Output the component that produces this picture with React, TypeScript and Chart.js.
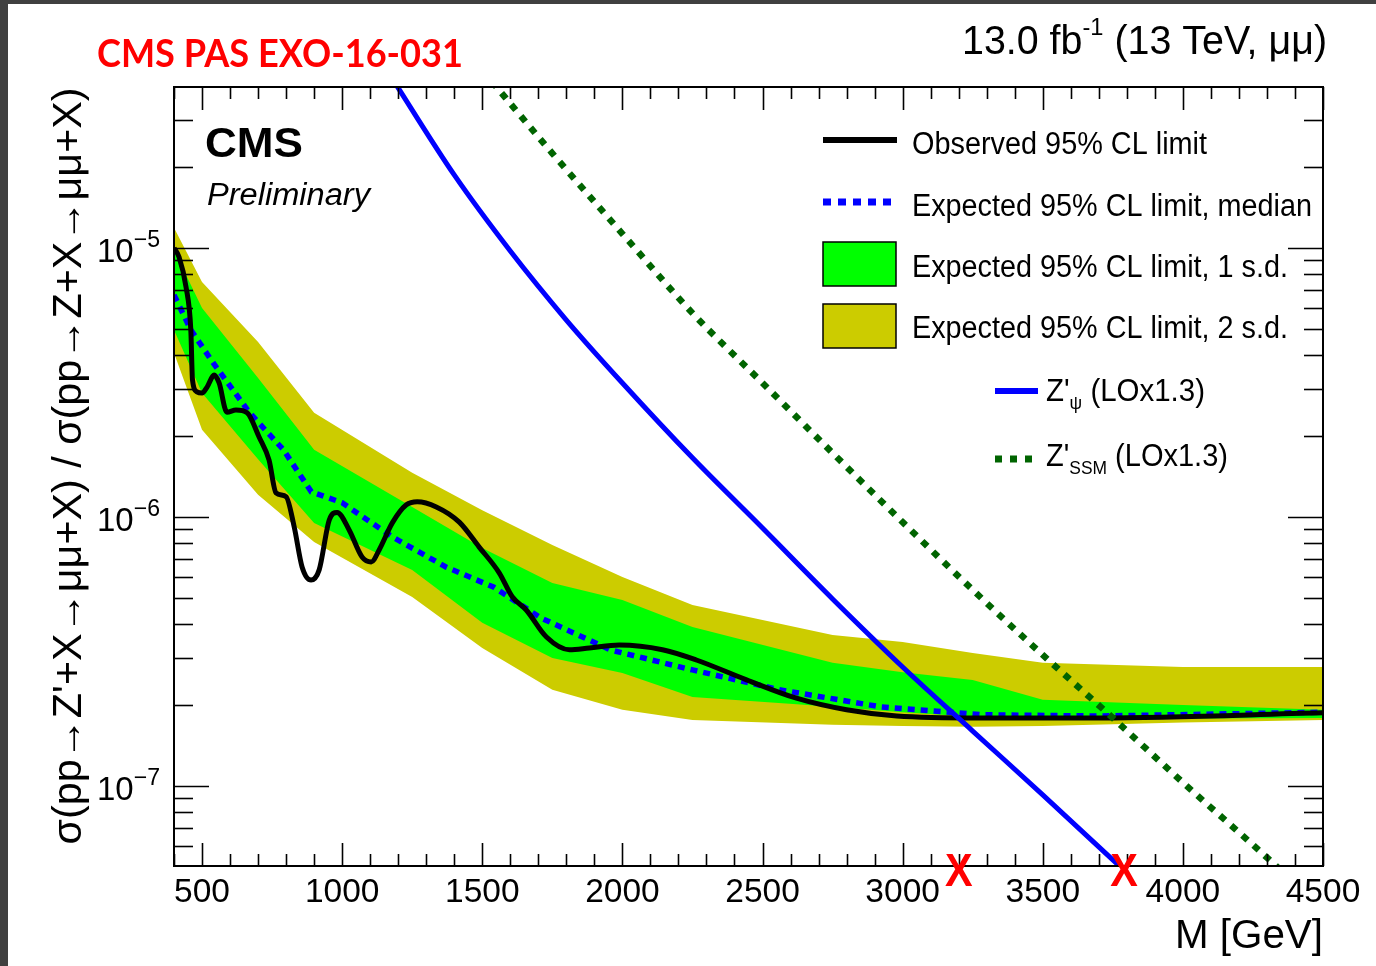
import { useEffect, useRef } from "react";
import { Chart, registerables } from "chart.js";

Chart.register(...registerables);

// Dimuon resonance search: 95% CL limits on R = σ(Z')/σ(Z) versus dimuon mass.

// Expected-limit bands (mass in GeV)
const BAND_MASS = [400, 500, 700, 900, 1250, 1500, 1750, 2000, 2250, 2750, 3000, 3250, 3500, 4000, 4500];
const EXP_2SD_UP = [1.19e-5, 7.47e-6, 4.47e-6, 2.44e-6, 1.46e-6, 1.06e-6, 7.87e-7, 5.98e-7, 4.71e-7, 3.64e-7, 3.43e-7, 3.12e-7, 2.87e-7, 2.77e-7, 2.77e-7];
const EXP_1SD_UP = [9.83e-6, 5.98e-6, 3.29e-6, 1.78e-6, 1.09e-6, 7.67e-7, 5.68e-7, 4.91e-7, 3.9e-7, 2.87e-7, 2.65e-7, 2.48e-7, 2.09e-7, 2.0e-7, 1.92e-7];
const EXP_1SD_DN = [4.96e-6, 2.89e-6, 1.64e-6, 9.5e-7, 6.35e-7, 4.04e-7, 2.99e-7, 2.63e-7, 2.14e-7, 1.97e-7, 1.88e-7, 1.81e-7, 1.79e-7, 1.78e-7, 1.79e-7];
const EXP_2SD_DN = [4.07e-6, 2.11e-6, 1.21e-6, 8.07e-7, 5.04e-7, 3.26e-7, 2.28e-7, 1.92e-7, 1.76e-7, 1.69e-7, 1.67e-7, 1.66e-7, 1.67e-7, 1.72e-7, 1.76e-7];

// Expected median limit
const EXP_MASS = [400, 460, 540, 670, 790, 890, 1000, 1180, 1370, 1540, 1710, 1960, 2250, 2560, 2920, 3280, 3700, 4500];
const EXP_MEDIAN = [6.69e-6, 4.96e-6, 3.74e-6, 2.44e-6, 1.78e-6, 1.24e-6, 1.13e-6, 8.42e-7, 6.52e-7, 5.49e-7, 4.21e-7, 3.2e-7, 2.7e-7, 2.28e-7, 1.97e-7, 1.84e-7, 1.82e-7, 1.88e-7];

// Observed limit
const OBS_MASS = [400, 418, 443, 460, 466, 482, 500, 518, 543, 561, 589, 621, 661, 704, 739, 764, 800, 829, 857, 889, 918, 954, 982, 1025, 1071, 1104, 1132, 1179, 1229, 1268, 1336, 1418, 1489, 1561, 1607, 1657, 1729, 1811, 1882, 1989, 2143, 2264, 2443, 2621, 2800, 2979, 3275, 3704, 4500];
const OBS_LIMIT = [1.0e-5, 9.26e-6, 7.16e-6, 4.96e-6, 3.23e-6, 2.92e-6, 2.89e-6, 3.04e-6, 3.37e-6, 3.15e-6, 2.45e-6, 2.5e-6, 2.44e-6, 1.98e-6, 1.63e-6, 1.23e-6, 1.19e-6, 9.18e-7, 6.52e-7, 5.83e-7, 6.36e-7, 9.75e-7, 1.04e-6, 8.95e-7, 7.1e-7, 6.81e-7, 7.54e-7, 9.51e-7, 1.11e-6, 1.14e-6, 1.09e-6, 9.57e-7, 7.73e-7, 6.19e-7, 5.05e-7, 4.51e-7, 3.58e-7, 3.21e-7, 3.26e-7, 3.34e-7, 3.21e-7, 2.94e-7, 2.48e-7, 2.12e-7, 1.92e-7, 1.82e-7, 1.79e-7, 1.79e-7, 1.87e-7];

// Theory predictions (LO x 1.3)
const ZPSI_MASS = [1100, 1200, 1400, 1600, 1800, 2000, 2250, 2500, 2750, 3000, 3250, 3500, 3800];
const ZPSI_XSEC = [5.78e-5, 3.94e-5, 1.87e-5, 9.75e-6, 5.4e-6, 3.15e-6, 1.66e-6, 9.1e-7, 4.96e-7, 2.77e-7, 1.6e-7, 9.27e-8, 4.75e-8];
const ZSSM_MASS = [1500, 1750, 2000, 2250, 2500, 2750, 3000, 3250, 3500, 3750, 4000, 4250, 4400];
const ZSSM_XSEC = [4.59e-5, 2.25e-5, 1.13e-5, 5.73e-6, 3.15e-6, 1.73e-6, 9.57e-7, 5.36e-7, 3.07e-7, 1.79e-7, 1.03e-7, 6.04e-8, 4.35e-8];

// Mass exclusion markers (crossing of limit and theory curves)
const EXCLUDED_MASS = [3200, 3790];

// Axes
const X_MIN = 400;
const X_MAX = 4500;
const Y_MIN = 5.04e-8;
const Y_MAX = 3.97e-5;
const X_TICKS = [500, 1000, 1500, 2000, 2500, 3000, 3500, 4000, 4500];
const X_MINOR_STEP = 100;
const Y_DECADES = [-7, -6, -5];

const W = 1376;
const H = 966;
const SANS = '"Liberation Sans", Arial, Helvetica, sans-serif';
const YELLOW = "#cccc00";
const GREEN = "#00ff00";
const BLUE = "#0000ff";
const DARK_GREEN = "#006400";

type Part = { t: string; k?: number; dy?: number };
type RunOpts = {
  width?: number;
  sx?: number;
  align?: "left" | "right" | "center";
  weight?: string;
  style?: string;
  family?: string;
  color?: string;
};

function setFont(ctx: CanvasRenderingContext2D, size: number, o: RunOpts) {
  ctx.font = `${o.style ?? "normal"} ${o.weight ?? "normal"} ${size}px ${o.family ?? SANS}`;
}

// Draws a run of text pieces (with super/subscripts), optionally squeezed to a width
function drawRun(ctx: CanvasRenderingContext2D, parts: Part[], x: number, y: number, size: number, o: RunOpts = {}) {
  const widths = parts.map((p) => {
    setFont(ctx, size * (p.k ?? 1), o);
    return ctx.measureText(p.t).width;
  });
  const total = widths.reduce((a, b) => a + b, 0);
  const sx = o.width ? o.width / total : o.sx ?? 1;
  const w = total * sx;
  const x0 = o.align === "right" ? x - w : o.align === "center" ? x - w / 2 : x;
  ctx.save();
  ctx.fillStyle = o.color ?? "#000";
  ctx.textAlign = "left";
  ctx.textBaseline = "alphabetic";
  ctx.translate(x0, y);
  ctx.scale(sx, 1);
  let cx = 0;
  parts.forEach((p, i) => {
    setFont(ctx, size * (p.k ?? 1), o);
    ctx.fillText(p.t, cx, p.dy ?? 0);
    cx += widths[i];
  });
  ctx.restore();
  return w;
}

function line(ctx: CanvasRenderingContext2D, x1: number, y1: number, x2: number, y2: number) {
  ctx.beginPath();
  ctx.moveTo(x1, y1);
  ctx.lineTo(x2, y2);
  ctx.stroke();
}

const rootStyle = {
  id: "rootStyle",
  afterDatasetsDraw(chart: any) {
    const ctx: CanvasRenderingContext2D = chart.ctx;
    const xs = chart.scales.x;
    const ys = chart.scales.y;
    const { left, right, top, bottom } = chart.chartArea;
    ctx.save();
    ctx.strokeStyle = "#000";
    ctx.lineWidth = 1.6;
    // x ticks, bottom and top, pointing inward
    for (let m = X_MIN; m <= X_MAX; m += X_MINOR_STEP) {
      const px = Math.round(xs.getPixelForValue(m)) + 0.5;
      const major = m % 500 === 0;
      const len = major ? 23 : 12;
      line(ctx, px, bottom, px, bottom - len);
      line(ctx, px, top, px, top + len);
    }
    // log y ticks, left and right
    for (let e = -8; e <= -5; e++) {
      for (let k = 1; k <= 9; k++) {
        const v = k * Math.pow(10, e);
        if (v < Y_MIN * 1.001 || v > Y_MAX * 0.999) continue;
        const py = Math.round(ys.getPixelForValue(v)) + 0.5;
        const len = k === 1 ? 35 : 19;
        line(ctx, left, py, left + len, py);
        line(ctx, right, py, right - len, py);
      }
    }
    ctx.lineWidth = 2;
    ctx.strokeRect(left, top, right - left, bottom - top);
    ctx.restore();
  },
  afterDraw(chart: any) {
    const ctx: CanvasRenderingContext2D = chart.ctx;
    const xs = chart.scales.x;
    const ys = chart.scales.y;
    const { right, bottom } = chart.chartArea;

    // x tick labels
    X_TICKS.forEach((v) => {
      drawRun(ctx, [{ t: String(v) }], xs.getPixelForValue(v), 902, 33.5, { align: "center" });
    });
    // y tick labels 10^n
    Y_DECADES.forEach((e) => {
      const py = ys.getPixelForValue(Math.pow(10, e));
      drawRun(ctx, [{ t: "10" }, { t: "\u2212" + Math.abs(e), k: 0.7, dy: -15 }], 160, py + 14, 33, { align: "right" });
    });
    // axis titles
    drawRun(ctx, [{ t: "M [GeV]" }], right, 948, 40, { align: "right", width: 148 });
    ctx.save();
    ctx.translate(81, 466);
    ctx.rotate(-Math.PI / 2);
    drawRun(ctx, [{ t: "\u03c3(pp\u2192Z'+X\u2192\u03bc\u03bc+X) / \u03c3(pp\u2192Z+X\u2192\u03bc\u03bc+X)" }], 0, 0, 40, { align: "center", width: 757 });
    ctx.restore();

    // header texts
    drawRun(ctx, [{ t: "13.0 fb" }, { t: "-1", k: 0.6, dy: -19 }, { t: " (13 TeV, \u03bc\u03bc)" }], 1327, 54, 41, { align: "right", width: 365 });
    drawRun(ctx, [{ t: "CMS PAS EXO-16-031" }], 97, 67, 38, { width: 366, weight: "bold", family: 'Lato, "Open Sans", sans-serif', color: "#ff0000" });
    drawRun(ctx, [{ t: "CMS" }], 205, 157, 42, { width: 98, weight: "bold" });
    drawRun(ctx, [{ t: "Preliminary" }], 207, 205, 31, { width: 163, style: "italic" });

    // legend
    ctx.save();
    ctx.lineCap = "butt";
    ctx.strokeStyle = "#000";
    ctx.lineWidth = 6;
    line(ctx, 823, 140, 897, 140);
    ctx.strokeStyle = BLUE;
    ctx.lineWidth = 7;
    ctx.setLineDash([8, 7]);
    line(ctx, 823, 202, 891, 202);
    ctx.setLineDash([]);
    ctx.lineWidth = 1.5;
    ctx.strokeStyle = "#000";
    ctx.fillStyle = GREEN;
    ctx.fillRect(823, 242, 73, 44);
    ctx.strokeRect(823, 242, 73, 44);
    ctx.fillStyle = YELLOW;
    ctx.fillRect(823, 304, 73, 44);
    ctx.strokeRect(823, 304, 73, 44);
    ctx.strokeStyle = BLUE;
    ctx.lineWidth = 6;
    line(ctx, 995, 391, 1038, 391);
    ctx.strokeStyle = DARK_GREEN;
    ctx.lineWidth = 7;
    ctx.setLineDash([7, 8]);
    line(ctx, 995, 459, 1032, 459);
    ctx.restore();

    const LS = 31;
    drawRun(ctx, [{ t: "Observed 95% CL limit" }], 912, 154, LS, { width: 295 });
    drawRun(ctx, [{ t: "Expected 95% CL limit, median" }], 912, 216, LS, { width: 400 });
    drawRun(ctx, [{ t: "Expected 95% CL limit, 1 s.d." }], 912, 277, LS, { width: 376 });
    drawRun(ctx, [{ t: "Expected 95% CL limit, 2 s.d." }], 912, 338, LS, { width: 376 });
    drawRun(ctx, [{ t: "Z'" }, { t: "\u03c8", k: 0.6, dy: 8 }, { t: " (LOx1.3)" }], 1046, 401, LS, { width: 159 });
    drawRun(ctx, [{ t: "Z'" }, { t: "SSM", k: 0.6, dy: 8 }, { t: " (LOx1.3)" }], 1046, 466, LS, { width: 182 });

    // excluded-mass markers on the axis
    EXCLUDED_MASS.forEach((m) => {
      drawRun(ctx, [{ t: "X" }], xs.getPixelForValue(m), bottom + 20, 46, { align: "center", weight: "bold", color: "#ff0000", sx: 0.9 });
    });
  },
};

const pts = (xv: number[], yv: number[]) => xv.map((x, i) => ({ x, y: yv[i] }));
const NONE = "rgba(0,0,0,0)";

export default function App() {
  const ref = useRef<HTMLCanvasElement>(null);
  useEffect(() => {
    const chart = new Chart(ref.current as HTMLCanvasElement, {
      type: "line",
      data: {
        datasets: [
          { label: "2 s.d. up", data: pts(BAND_MASS, EXP_2SD_UP), fill: "+1", backgroundColor: YELLOW, borderColor: NONE, borderWidth: 0, order: 10 },
          { label: "2 s.d. down", data: pts(BAND_MASS, EXP_2SD_DN), fill: false, borderColor: NONE, borderWidth: 0, order: 9 },
          { label: "1 s.d. up", data: pts(BAND_MASS, EXP_1SD_UP), fill: "+1", backgroundColor: GREEN, borderColor: NONE, borderWidth: 0, order: 8 },
          { label: "1 s.d. down", data: pts(BAND_MASS, EXP_1SD_DN), fill: false, borderColor: NONE, borderWidth: 0, order: 7 },
          { label: "Expected median", data: pts(EXP_MASS, EXP_MEDIAN), borderColor: BLUE, borderWidth: 5.5, borderDash: [7, 6], fill: false, order: 5 },
          { label: "Observed", data: pts(OBS_MASS, OBS_LIMIT), borderColor: "#000", borderWidth: 5, cubicInterpolationMode: "monotone", fill: false, order: 4 },
          { label: "Z'psi", data: pts(ZPSI_MASS, ZPSI_XSEC), borderColor: BLUE, borderWidth: 5, cubicInterpolationMode: "monotone", fill: false, order: 3 },
          { label: "Z'SSM", data: pts(ZSSM_MASS, ZSSM_XSEC), borderColor: DARK_GREEN, borderWidth: 6.5, borderDash: [7, 8], cubicInterpolationMode: "monotone", fill: false, order: 2 },
        ],
      },
      options: {
        responsive: false,
        animation: false,
        events: [],
        layout: { padding: { left: 174, top: 87, right: W - 1323, bottom: H - 866 }, autoPadding: false },
        elements: { point: { radius: 0 }, line: { tension: 0 } },
        scales: {
          x: { type: "linear", min: X_MIN, max: X_MAX, display: false },
          y: { type: "logarithmic", min: Y_MIN, max: Y_MAX, display: false },
        },
        plugins: { legend: { display: false }, tooltip: { enabled: false } },
      } as any,
      plugins: [rootStyle],
    });
    return () => chart.destroy();
  }, []);

  return (
    <div style={{ position: "absolute", left: 0, top: 0, width: W, height: H, background: "#fff", overflow: "hidden" }}>
      <canvas ref={ref} width={W} height={H} style={{ display: "block", width: W, height: H }} />
      <div style={{ position: "absolute", left: 0, top: 0, width: 8, height: H, background: "#404040" }} />
      <div style={{ position: "absolute", left: 0, top: 0, width: W, height: 4, background: "#404040" }} />
    </div>
  );
}
